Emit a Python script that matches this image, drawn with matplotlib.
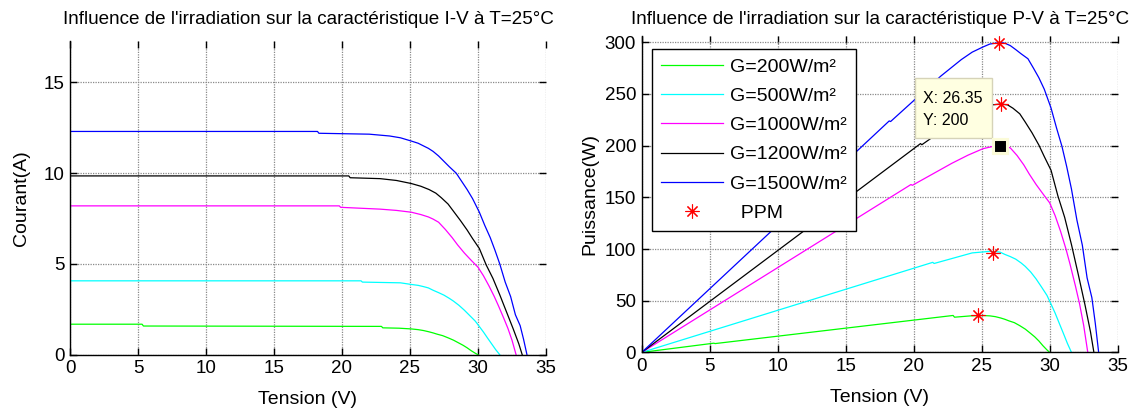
import numpy as np
import matplotlib
matplotlib.use("Agg")
import matplotlib.pyplot as plt
from matplotlib.lines import Line2D
from matplotlib.patches import Rectangle

plt.rcParams['font.family'] = ['Liberation Sans', 'DejaVu Sans']

# ---------------- data ----------------
labels = ['G=200W/m²', 'G=500W/m²', 'G=1000W/m²', 'G=1200W/m²', 'G=1500W/m²']
colors = ['#00ff00', '#00ffff', '#ff00ff', '#000000', '#0000ff']

V_200 = [0, 5.3, 5.4, 22.9, 23.0, 24.2, 25.1, 25.6, 26.0, 26.4, 26.7, 27.0, 27.4,
         27.8, 28.2, 28.6, 28.9, 29.2, 29.5, 29.8, 30.0]
I_200 = [1.68, 1.68, 1.58, 1.56, 1.48, 1.46, 1.42, 1.38, 1.33, 1.26, 1.2, 1.13, 1.05,
         0.93, 0.8, 0.64, 0.52, 0.38, 0.22, 0.08, 0]

V_500 = [0, 21.4, 21.5, 24.3, 25.1, 25.6, 26.0, 26.35, 26.7, 27.1, 27.5, 27.9, 28.2,
         28.6, 29.0, 29.4, 29.8, 30.1, 30.4, 30.7, 31.0, 31.3, 31.6]
I_500 = [4.07, 4.07, 4.0, 3.96, 3.87, 3.82, 3.75, 3.68, 3.55, 3.42, 3.28, 3.1, 2.95,
         2.72, 2.45, 2.15, 1.85, 1.55, 1.25, 0.92, 0.6, 0.28, 0]

V_1000 = [0, 19.8, 19.9, 22.8, 24.0, 25.1, 25.8, 26.35, 26.7, 27.1, 27.6, 28.1, 28.5,
          29.0, 29.5, 30.0, 30.4, 30.8, 31.2, 31.5, 31.9, 32.2, 32.5, 32.8]
I_1000 = [8.2, 8.2, 8.12, 8.02, 7.95, 7.85, 7.72, 7.59, 7.47, 7.3, 6.9, 6.45, 6.05,
          5.6, 5.2, 4.82, 4.35, 3.8, 3.2, 2.7, 2.0, 1.45, 0.8, 0]

V_1200 = [0, 20.5, 20.6, 22.8, 24.0, 25.1, 25.8, 26.4, 26.9, 27.3, 27.8, 28.2, 28.7,
          29.2, 29.6, 30.1, 30.6, 31.1, 31.6, 32.1, 32.6, 33.0, 33.25]
I_1200 = [9.85, 9.85, 9.75, 9.7, 9.6, 9.43, 9.28, 9.1, 8.9, 8.65, 8.3, 7.9, 7.4,
          6.87, 6.4, 5.85, 4.95, 4.2, 3.3, 2.35, 1.4, 0.6, 0]

V_1500 = [0, 18.2, 18.3, 22.0, 23.5, 24.3, 25.1, 25.6, 26.0, 26.35, 26.7, 27.1, 27.5,
          27.9, 28.4, 28.8, 29.2, 29.6, 30.1, 30.5, 30.9, 31.25, 31.6, 32.0, 32.4,
          32.75, 33.1, 33.35, 33.6]
I_1500 = [12.3, 12.3, 12.2, 12.15, 12.05, 11.95, 11.77, 11.65, 11.5, 11.37, 11.2, 10.95,
          10.65, 10.35, 10.0, 9.55, 9.1, 8.6, 7.85, 7.12, 6.45, 5.75, 5.0, 4.0, 3.2,
          2.2, 1.6, 0.85, 0]

V_ppm = [24.7, 25.8, 26.35, 26.4, 26.3]
P_ppm = [36.2, 96.4, 200, 240, 299]

tip_x = 26.35
tip_y = 200

V_series = [V_200, V_500, V_1000, V_1200, V_1500]
I_series = [I_200, I_500, I_1000, I_1200, I_1500]

# ---------------- figure ----------------
W, H = 1143, 415
fig = plt.figure(figsize=(W / 100, H / 100), dpi=100)
ax1 = fig.add_axes([70 / W, (H - 354.7) / H, 476 / W, (354.7 - 40.7) / H])
ax2 = fig.add_axes([641.7 / W, (H - 352.4) / H, 476 / W, (352.4 - 36) / H])

FS_TICK = 13.5
FS_LAB = 14
FS_TITLE = 13.6

def style(ax):
    ax.grid(True, linestyle=(0, (1, 1)), color='#8a8a8a', linewidth=0.9)
    ax.set_axisbelow(True)
    ax.tick_params(direction='in', length=5, width=1, top=True, right=True,
                   labelsize=FS_TICK, pad=4)
    ax.spines['top'].set_visible(False)
    ax.spines['right'].set_visible(False)
    for s in ['left', 'bottom']:
        ax.spines[s].set_linewidth(1.0)
    ax.set_xlim(0, 35)
    ax.set_xticks(np.arange(0, 36, 5))

# Left: I-V
for V, I, c in zip(V_series, I_series, colors):
    ax1.plot(V, I, color=c, lw=0.9)
style(ax1)
ax1.set_ylim(0, 17.3)
ax1.set_yticks([0, 5, 10, 15])
ax1.set_xlabel('Tension (V)', fontsize=FS_LAB, labelpad=10)
ax1.set_ylabel('Courant(A)', fontsize=FS_LAB)
ax1.yaxis.set_label_coords(-0.085, 0.5)
ax1.set_title("Influence de l'irradiation sur la caractéristique I-V à T=25°C",
              fontsize=FS_TITLE, pad=12)

# Right: P-V
for V, I, c, lab in zip(V_series, I_series, colors, labels):
    Va = np.asarray(V)
    Pa = Va * np.asarray(I)
    ax2.plot(Va, Pa, color=c, lw=0.9, label=lab)
ax2.plot(V_ppm, P_ppm, linestyle='none', marker=(8, 2, 0), ms=10, mec='red',
         mew=0.8, color='red', zorder=5)
style(ax2)
ax2.set_ylim(0, 306)
ax2.set_yticks(np.arange(0, 301, 50))
ax2.set_xlabel('Tension (V)', fontsize=FS_LAB, labelpad=10)
ax2.set_ylabel('Puissance(W)', fontsize=FS_LAB)
ax2.yaxis.set_label_coords(-0.09, 0.5)
ax2.set_title("Influence de l'irradiation sur la caractéristique P-V à T=25°C",
              fontsize=FS_TITLE, pad=9)

handles = [Line2D([], [], color=c, lw=0.9) for c in colors]
handles.append(Line2D([], [], linestyle='none', marker=(8, 2, 0), ms=10,
                      mec='red', mew=0.8, color='red'))
leg = ax2.legend(handles, labels + ['  PPM'], loc='upper left',
                 bbox_to_anchor=(0.0223, 0.958), borderaxespad=0,
                 fontsize=14, fancybox=False, framealpha=1, edgecolor='black',
                 handlelength=3.2, handletextpad=0.35, borderpad=0.45,
                 labelspacing=0.6)
leg.get_frame().set_linewidth(1.0)
leg.set_zorder(10)

# data tip
ax2.add_patch(Rectangle((20.1, 207), 5.64, 58, facecolor='#ffffe1',
                        edgecolor='#d6d3b8', lw=1.0, zorder=8))
ax2.text(20.7, 245.5, 'X: 26.35', fontsize=11.5, va='center', ha='left', zorder=9)
ax2.text(20.7, 224.5, 'Y: 200', fontsize=11.5, va='center', ha='left', zorder=9)
ax2.plot([tip_x], [tip_y], marker='s', ms=10.6, mfc='black', mec='#fbfbd8',
         mew=2.2, zorder=9, linestyle='none')

fig.savefig('out.png', dpi=100)
